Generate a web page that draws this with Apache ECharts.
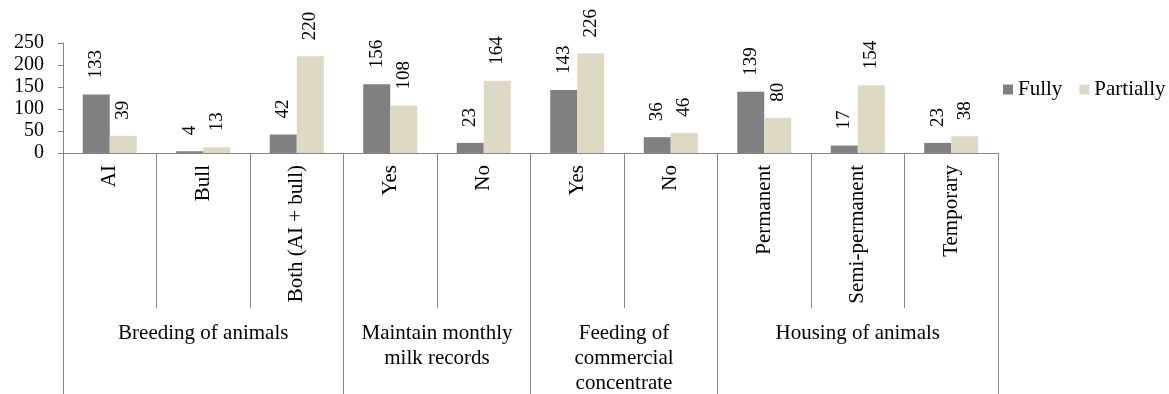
<!DOCTYPE html>
<html>
<head>
<meta charset="utf-8">
<script src="https://cdn.jsdelivr.net/npm/echarts@6/dist/echarts.min.js"></script>
<style>html,body{margin:0;padding:0;background:#fff}#c{width:1169px;height:394px}</style>
</head>
<body>
<div id="c"></div>
<script>
var categories = ['AI', 'Bull', 'Both (AI + bull)', 'Yes', 'No', 'Yes', 'No', 'Permanent', 'Semi-permanent', 'Temporary'];
var fully = [133, 4, 42, 156, 23, 143, 36, 139, 17, 23];
var partially = [39, 13, 220, 108, 164, 226, 46, 80, 154, 38];
var groupNames = ['Breeding of animals', 'Maintain monthly\nmilk records', 'Feeding of\ncommercial\nconcentrate', 'Housing of animals'];
var groupBounds = [0, 3, 5, 7, 10];
var groupCenters = [1.5, 4, 6, 8.5];
var yTicks = [0, 50, 100, 150, 200, 250];

var FONT = "'Liberation Serif', 'Times New Roman', serif";
var axisGray = '#868686';
var chart = echarts.init(document.getElementById('c'));
chart.setOption({
  animation: false,
  textStyle: { fontFamily: FONT, color: '#000' },
  grid: { left: 63, right: 171, top: 43, bottom: 241, containLabel: false, outerBoundsMode: 'none' },
  legend: {
    left: 1003, top: 79, width: 166, padding: 0,
    orient: 'horizontal',
    itemWidth: 10, itemHeight: 10, itemGap: 17,
    icon: 'rect',
    textStyle: { fontFamily: FONT, fontSize: 21, color: '#000' },
    data: ['Fully', 'Partially']
  },
  xAxis: [{
    type: 'category',
    data: categories,
    position: 'bottom',
    axisLine: { lineStyle: { color: axisGray, width: 1 } },
    axisTick: { show: true, interval: 0, length: 155, alignWithLabel: false, lineStyle: { color: axisGray, width: 1 } },
    axisLabel: { interval: 0, rotate: 90, margin: 12, fontFamily: FONT, fontSize: 21, color: '#000' },
    splitLine: { show: false }
  }, {
    type: 'value',
    min: 0, max: 10,
    position: 'bottom',
    axisLine: { show: false },
    axisTick: { show: true, customValues: groupBounds, length: 260, lineStyle: { color: axisGray, width: 1 } },
    axisLabel: {
      customValues: groupCenters,
      margin: 168,
      fontFamily: FONT, fontSize: 21, lineHeight: 25, color: '#000',
      verticalAlign: 'top',
      formatter: function (v) {
        for (var i = 0; i < groupCenters.length; i++) {
          if (Math.abs(groupCenters[i] - v) < 1e-6) return groupNames[i];
        }
        return '';
      }
    },
    splitLine: { show: false }
  }],
  yAxis: {
    type: 'value',
    min: yTicks[0], max: yTicks[yTicks.length - 1], interval: 50,
    axisLine: { show: true, lineStyle: { color: axisGray, width: 1 } },
    axisTick: { show: true, length: 5, lineStyle: { color: axisGray, width: 1 } },
    axisLabel: { margin: 19, fontFamily: FONT, fontSize: 20, color: '#000' },
    splitLine: { show: false }
  },
  series: [{
    name: 'Fully', type: 'bar', data: fully,
    barWidth: 27, barGap: '0%',
    itemStyle: { color: '#808080' },
    label: { show: true, position: 'top', rotate: 90, align: 'left', verticalAlign: 'middle', distance: 16, fontFamily: FONT, fontSize: 19, color: '#000' }
  }, {
    name: 'Partially', type: 'bar', data: partially,
    barWidth: 27, barGap: '0%',
    itemStyle: { color: '#ddd9c3' },
    label: { show: true, position: 'top', rotate: 90, align: 'left', verticalAlign: 'middle', distance: 16, fontFamily: FONT, fontSize: 19, color: '#000' }
  }]
});
</script>
</body>
</html>
